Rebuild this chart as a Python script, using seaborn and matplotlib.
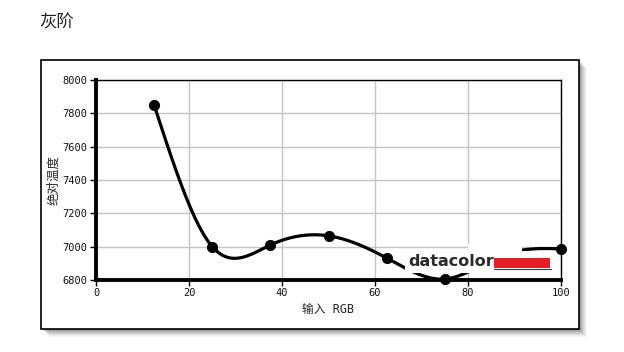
import numpy as np
import pandas as pd
import matplotlib
matplotlib.use("Agg")
import matplotlib.pyplot as plt
import seaborn as sns
from matplotlib.patches import Rectangle

# data
rgb_input = [12.5, 25, 37.5, 50, 62.5, 75, 87.5, 100]
abs_temp = [7850, 7000, 7010, 7065, 6932, 6806, 6950, 6987]
x_ticks = [0, 20, 40, 60, 80, 100]
y_ticks = [6800, 7000, 7200, 7400, 7600, 7800, 8000]
title_text = "灰阶"
x_label = "输入 RGB"
y_label = "绝对温度"


def natural_spline(x, y, xs):
    x = np.asarray(x, float); y = np.asarray(y, float)
    n = len(x)
    h = np.diff(x)
    A = np.zeros((n, n)); b = np.zeros(n)
    A[0, 0] = 1; A[-1, -1] = 1
    for i in range(1, n - 1):
        A[i, i - 1] = h[i - 1]
        A[i, i] = 2 * (h[i - 1] + h[i])
        A[i, i + 1] = h[i]
        b[i] = 6 * ((y[i + 1] - y[i]) / h[i] - (y[i] - y[i - 1]) / h[i - 1])
    M = np.linalg.solve(A, b)
    out = np.empty_like(xs)
    for k, t in enumerate(xs):
        i = min(max(np.searchsorted(x, t) - 1, 0), n - 2)
        a = x[i + 1] - t; c = t - x[i]
        out[k] = (M[i] * a**3 + M[i + 1] * c**3) / (6 * h[i]) \
            + (y[i] / h[i] - M[i] * h[i] / 6) * a \
            + (y[i + 1] / h[i] - M[i + 1] * h[i] / 6) * c
    return out


sns.set_theme(style="white")
plt.rcParams['font.family'] = ['DejaVu Sans Mono', 'Noto Sans CJK SC']

W, H = 624, 352
fig = plt.figure(figsize=(W / 100, H / 100), dpi=100)

# outer frame with shadow
for i, a in enumerate([0.10, 0.09, 0.08, 0.07, 0.06, 0.05, 0.04, 0.03]):
    off = i + 1
    fig.patches.append(Rectangle(((41 + off) / W, 1 - (329 + off) / H),
                                 538 / W, 269 / H, transform=fig.transFigure,
                                 facecolor="black", alpha=a, edgecolor="none", zorder=0))
fig.patches.append(Rectangle((41 / W, 1 - 329 / H), 538 / W, 269 / H,
                             transform=fig.transFigure, facecolor="white",
                             edgecolor="black", linewidth=1.2, zorder=1))

fig.text(39 / W, 1 - 22 / H, title_text, fontsize=12.5, ha="left", va="center",
         family=['Noto Sans CJK SC'], color="#222222")

ax = fig.add_axes([96 / W, 1 - 280 / H, (561 - 96) / W, 200 / H])
ax.set_zorder(2)
ax.set_facecolor("white")

xs = np.linspace(rgb_input[0], rgb_input[-1], 400)
ys = natural_spline(rgb_input, abs_temp, xs)
curve = pd.DataFrame({"x": xs, "y": ys})
pts = pd.DataFrame({"x": rgb_input, "y": abs_temp})

sns.lineplot(data=curve, x="x", y="y", ax=ax, color="black", linewidth=2.3, zorder=3)
sns.scatterplot(data=pts, x="x", y="y", ax=ax, color="black", s=55, edgecolor="black",
                zorder=4, clip_on=False)

ax.set_xlim(0, 100)
ax.set_ylim(6800, 8000)
ax.set_xticks(x_ticks)
ax.set_yticks(y_ticks)
ax.grid(True, color="#c4c4c4", linewidth=1)
ax.set_axisbelow(True)
for s in ["top", "right"]:
    ax.spines[s].set_color("black"); ax.spines[s].set_linewidth(1.0)
for s in ["left", "bottom"]:
    ax.spines[s].set_color("black"); ax.spines[s].set_linewidth(2.8)
    ax.spines[s].set_zorder(5)
ax.tick_params(axis="both", which="major", length=4, width=1, color="black",
               labelsize=7.5, labelcolor="#111111", pad=2, left=True, bottom=True)
ax.set_xlabel(x_label, fontsize=8.5, labelpad=3)
ax.set_ylabel(y_label, fontsize=9, labelpad=2, family=['Noto Sans CJK SC'])

# datacolor logo
def px2ax(x0, y0, x1, y1):
    return ((x0 - 96) / 465, (280 - y1) / 200), (x1 - x0) / 465, (y1 - y0) / 200

for (x0, y0, x1, y1) in [(405, 251, 552, 273), (468, 244, 522, 273)]:
    xy, w, h = px2ax(x0, y0, x1, y1)
    ax.add_patch(Rectangle(xy, w, h, transform=ax.transAxes, facecolor="white",
                           edgecolor="none", zorder=6))
ax.text((408 - 96) / 465, (280 - 266) / 200, "datacolor", transform=ax.transAxes,
        fontsize=11.5, fontweight="bold", color="#2a2a2a", family=["DejaVu Sans"],
        ha="left", va="baseline", zorder=7)
xy, w, h = px2ax(494, 258, 550, 268)
ax.add_patch(Rectangle(xy, w, h, transform=ax.transAxes, facecolor="#e41e26",
                       edgecolor="none", zorder=7))
ax.plot([(494 - 96) / 465, (551 - 96) / 465], [(280 - 268.5) / 200] * 2,
        transform=ax.transAxes, color="#333333", linewidth=0.8, zorder=7)

fig.savefig("out.png", dpi=100, facecolor="white")
